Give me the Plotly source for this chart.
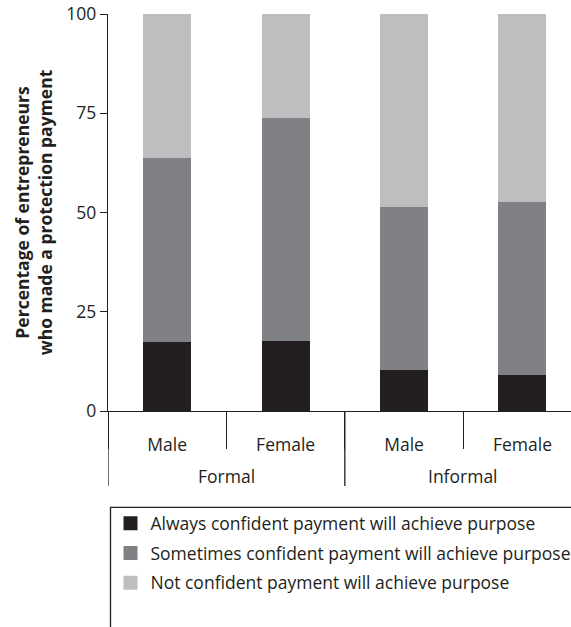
import plotly.graph_objects as go

groups = ["Formal", "Formal", "Informal", "Informal"]
sexes = ["Male", "Female", "Male", "Female"]
always = [17.6, 17.8, 10.7, 9.4]
sometimes = [46.5, 56.3, 41.0, 43.5]
not_conf = [35.9, 25.9, 48.3, 47.1]
series_names = [
    "Always confident payment will achieve purpose",
    "Sometimes confident payment will achieve purpose",
    "Not confident payment will achieve purpose",
]
colors = ["#231f20", "#808184", "#bdbec0"]
y_ticks = [0, 25, 50, 75, 100]

INK = "#231f20"
FONT = "Open Sans"
FS = 17.5

x_pos = list(range(len(sexes)))
boundaries = [i - 0.5 for i in x_pos] + [x_pos[-1] + 0.5]
group_names = list(dict.fromkeys(groups))
group_idx = {g: [i for i, gg in enumerate(groups) if gg == g] for g in group_names}

fig = go.Figure()
for name, vals, col in zip(series_names, [always, sometimes, not_conf], colors):
    fig.add_trace(go.Bar(
        x=x_pos, y=vals, name=name,
        marker=dict(color=col, line=dict(width=2, color=col)),
        width=0.388, legendgroup=name,
    ))

W, H = 571, 627
L, R, T, B = 107.5, 0, 14, 627 - 411.5
PH = 411.5 - 14

fig.update_layout(
    width=W, height=H,
    margin=dict(l=L, r=R, t=T, b=B, pad=0, autoexpand=False),
    barmode="stack",
    plot_bgcolor="white", paper_bgcolor="white",
    font=dict(family=FONT, size=FS, color=INK),
    showlegend=True,
    legend=dict(
        x=0.0054, y=-0.2375, xanchor="left", yanchor="top",
        bgcolor="rgba(0,0,0,0)", borderwidth=0,
        traceorder="grouped", tracegroupgap=4,
        font=dict(family=FONT, size=FS, color=INK),
    ),
    bargap=0,
)

fig.update_xaxes(
    type="linear", range=[-0.5, 3.41],
    showline=True, linecolor=INK, linewidth=1.3,
    tickvals=x_pos, ticktext=sexes, ticks="",
    ticklabelstandoff=18, tickangle=0,
    minor=dict(tickvals=boundaries, ticks="outside", ticklen=37,
               tickcolor=INK, tickwidth=1.3, showgrid=False),
    showgrid=False, zeroline=False, automargin=False,
    tickfont=dict(family=FONT, size=FS, color=INK),
)
fig.update_yaxes(
    range=[0, 100], tickvals=y_ticks,
    showline=True, linecolor=INK, linewidth=1.3,
    ticks="outside", ticklen=7, tickcolor=INK, tickwidth=1.3,
    showgrid=False, zeroline=False, automargin=False,
    tickfont=dict(family=FONT, size=FS, color=INK),
    title=dict(text="<b>Percentage of entrepreneurs<br>who made a protection payment</b>",
               font=dict(family=FONT, size=FS, color=INK), standoff=9),
)

# group labels and group dividers
div_bottom = (411.5 - 486.7) / PH
for g in group_names:
    idx = group_idx[g]
    fig.add_annotation(x=sum(idx) / len(idx), xref="x", y=0, yref="paper",
                       yshift=-64.5, yanchor="middle", text=g, showarrow=False,
                       font=dict(family=FONT, size=FS, color=INK))
    fig.add_shape(type="line", xref="x", yref="paper",
                  x0=idx[0] - 0.5, x1=idx[0] - 0.5, y0=0, y1=div_bottom,
                  line=dict(color=INK, width=1.3))

# legend frame (cut by page edges as in the reference)
fig.add_shape(type="rect", xref="paper", yref="paper",
              x0=(110 - L) / (W - L), x1=1.2,
              y0=(411.5 - 508) / PH, y1=-1.0,
              line=dict(color=INK, width=1.3), fillcolor="rgba(0,0,0,0)", layer="below")

fig.write_html("out.html", config={"displayModeBar": False},
               post_script="document.body.style.margin='0px';")
